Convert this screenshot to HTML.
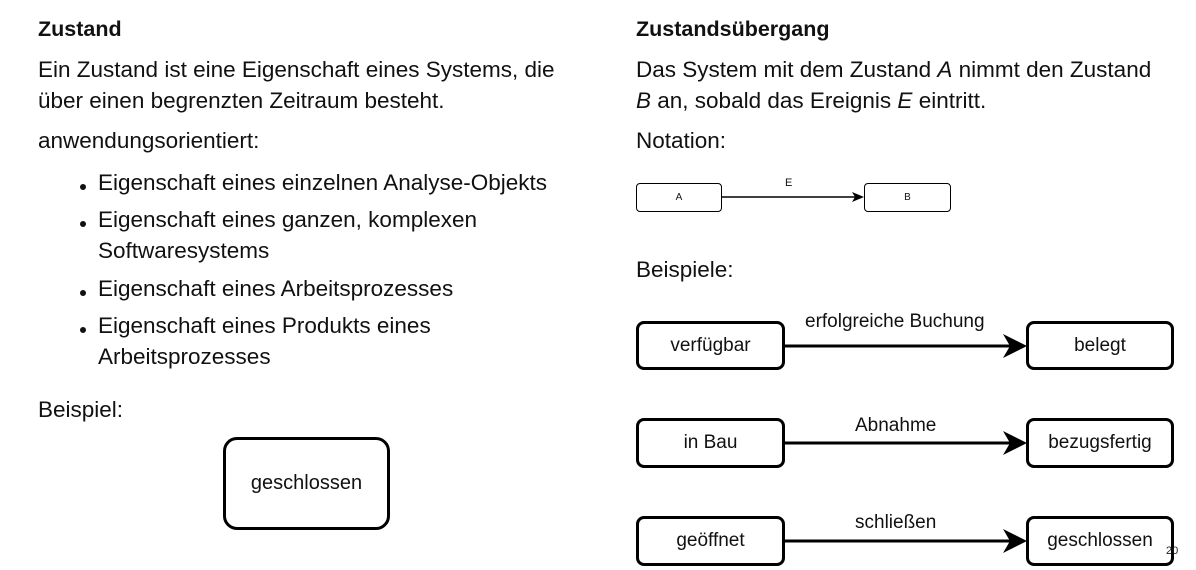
<!DOCTYPE html>
<html><head><meta charset="utf-8"><style>
body{margin:0;width:1196px;height:570px;background:#fff;position:relative;overflow:hidden;font-family:"Liberation Sans",sans-serif;color:#111}
.t{position:absolute;white-space:nowrap;font-size:22.5px;line-height:1}
.h{font-weight:bold;font-size:21.5px}
.b{position:absolute;border:3px solid #000;border-radius:8px;box-sizing:border-box;display:flex;align-items:center;justify-content:center;font-size:19px}
.dot{position:absolute;width:6px;height:6px;border-radius:50%;background:#111}
</style></head><body>
<div class="t h" style="left:38px;top:19px">Zustand</div>
<div class="t" style="left:38px;top:59px">Ein Zustand ist eine Eigenschaft eines Systems, die</div>
<div class="t" style="left:38px;top:90px">über einen begrenzten Zeitraum besteht.</div>
<div class="t" style="left:38px;top:130px">anwendungsorientiert:</div>
<div class="dot" style="left:80px;top:184px"></div>
<div class="t" style="left:98px;top:172px">Eigenschaft eines einzelnen Analyse-Objekts</div>
<div class="dot" style="left:80px;top:221px"></div>
<div class="t" style="left:98px;top:209px">Eigenschaft eines ganzen, komplexen</div>
<div class="t" style="left:98px;top:240px">Softwaresystems</div>
<div class="dot" style="left:80px;top:290px"></div>
<div class="t" style="left:98px;top:278px">Eigenschaft eines Arbeitsprozesses</div>
<div class="dot" style="left:80px;top:327px"></div>
<div class="t" style="left:98px;top:315px">Eigenschaft eines Produkts eines</div>
<div class="t" style="left:98px;top:346px">Arbeitsprozesses</div>
<div class="t" style="left:38px;top:399px">Beispiel:</div>
<div class="b" style="left:223px;top:437px;width:167px;height:93px;border-radius:14px;font-size:20px">geschlossen</div>

<div class="t h" style="left:636px;top:19px">Zustandsübergang</div>
<div class="t" style="left:636px;top:59px">Das System mit dem Zustand <i>A</i> nimmt den Zustand</div>
<div class="t" style="left:636px;top:90px"><i>B</i> an, sobald das Ereignis <i>E</i> eintritt.</div>
<div class="t" style="left:636px;top:130px">Notation:</div>
<div class="t" style="left:636px;top:259px">Beispiele:</div>

<div class="b" style="left:636px;top:183px;width:86px;height:29px;border-width:1.5px;border-radius:4px;font-size:10px">A</div>
<div class="b" style="left:864px;top:183px;width:87px;height:29px;border-width:1.5px;border-radius:4px;font-size:10px">B</div>
<div class="t" style="left:785px;top:178px;font-size:11px">E</div>

<div class="b" style="left:636px;top:321px;width:149px;height:49px">verfügbar</div>
<div class="b" style="left:1026px;top:321px;width:148px;height:49px">belegt</div>
<div class="t" style="left:805px;top:312px;font-size:19px">erfolgreiche Buchung</div>
<div class="b" style="left:636px;top:418px;width:149px;height:50px">in Bau</div>
<div class="b" style="left:1026px;top:418px;width:148px;height:50px">bezugsfertig</div>
<div class="t" style="left:855px;top:416px;font-size:19px">Abnahme</div>
<div class="b" style="left:636px;top:516px;width:149px;height:50px">geöffnet</div>
<div class="b" style="left:1026px;top:516px;width:148px;height:50px">geschlossen</div>
<div class="t" style="left:855px;top:513px;font-size:19px">schließen</div>
<div class="t" style="left:1166px;top:546px;font-size:11px;color:#222">20</div>

<svg style="position:absolute;left:0;top:0" width="1196" height="570">
<line x1="722" y1="197" x2="856" y2="197" stroke="#000" stroke-width="1.5"/>
<polygon points="864,197 852,192 855,197 852,202" fill="#000"/>
<g stroke="#000" stroke-width="3">
<line x1="785" y1="346" x2="1012" y2="346"/>
<line x1="785" y1="443" x2="1012" y2="443"/>
<line x1="785" y1="541" x2="1012" y2="541"/>
</g>
<polygon points="1027,346 1003,334 1010,346 1003,358" fill="#000"/>
<polygon points="1027,443 1003,431 1010,443 1003,455" fill="#000"/>
<polygon points="1027,541 1003,529 1010,541 1003,553" fill="#000"/>
</svg>
</body></html>
